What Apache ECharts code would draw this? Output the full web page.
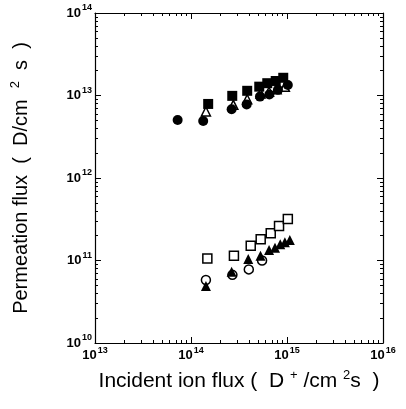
<!DOCTYPE html>
<html lang="en">
<head>
    <meta charset="UTF-8">
    <title>Permeation flux vs incident ion flux</title>
    <script src="https://cdn.jsdelivr.net/npm/echarts@6/dist/echarts.min.js"></script>
    <style>
        html, body { margin: 0; padding: 0; background: #fff; }
        #main { width: 406px; height: 409px; }
    </style>
</head>
<body>
    <div id="main"></div>
    <script>
    // 上段（高い透過フラックス）
    var upSqX   = [1.51e14, 2.69e14, 3.85e14, 5.14e14, 6.23e14, 7.63e14, 9.14e14];
    var upSqY   = [7.9e12, 9.9e12, 1.14e13, 1.28e13, 1.41e13, 1.50e13, 1.64e13];
    var upCirX  = [7.26e13, 1.34e14, 2.65e14, 3.8e14, 5.23e14, 6.55e14, 8.05e14, 1.02e15];
    var upCirY  = [5.05e12, 4.9e12, 6.8e12, 7.8e12, 9.7e12, 1.03e13, 1.17e13, 1.34e13];
    var upTriX  = [1.43e14, 2.76e14, 3.85e14, 5.3e14, 6.5e14, 7.8e14, 9.5e14];
    var upTriY  = [6.4e12, 7.7e12, 9.0e12, 1.06e13, 1.11e13, 1.19e13, 1.28e13];

    // 下段（低い透過フラックス）
    var loSqX   = [1.48e14, 2.8e14, 4.19e14, 5.32e14, 6.77e14, 8.26e14, 1.02e15];
    var loSqY   = [1.06e11, 1.14e11, 1.51e11, 1.81e11, 2.14e11, 2.62e11, 3.18e11];
    var loTriX  = [1.43e14, 2.65e14, 3.95e14, 5.3e14, 6.5e14, 7.5e14, 8.5e14, 9.5e14, 1.07e15];
    var loTriY  = [4.9e10, 7.3e10, 1.04e11, 1.14e11, 1.34e11, 1.43e11, 1.57e11, 1.66e11, 1.77e11];
    var loCirX  = [1.43e14, 2.7e14, 4.0e14, 5.5e14];
    var loCirY  = [5.8e10, 6.7e10, 7.8e10, 1.0e11];

    var xDecades = [13, 16];
    var yDecades = [10, 14];

    function pairs(xs, ys) {
        return xs.map(function (x, i) { return [x, ys[i]]; });
    }

    // 小目盛り（2〜9）の位置、log10空間
    function minorTicks(from, to) {
        var out = [];
        for (var d = from; d < to; d++) {
            for (var k = 2; k <= 9; k++) out.push(d + Math.log10(k));
        }
        return out;
    }

    var font = 'Liberation Sans, Arial, sans-serif';
    var tickRich = {
        a: { fontSize: 13, fontWeight: 'bold', fontFamily: font, color: '#000' },
        b: { fontSize: 9, fontWeight: 'bold', fontFamily: font, color: '#000', padding: [0, 0, 10, 1] }
    };
    function powLabel(v) {
        return '{a|10}{b|' + Math.round(Math.log10(v)) + '}';
    }

    var line = { show: true, onZero: false, lineStyle: { color: '#000', width: 1.2 } };
    var noLine = { show: false, onZero: false };

    function logAxis(pos, range, labels, name, gap, rotate, size) {
        return {
            type: 'log', logBase: 10, position: pos,
            min: Math.pow(10, range[0]), max: Math.pow(10, range[1]),
            axisLine: line,
            axisTick: { show: true, inside: true, length: 6, lineStyle: { color: '#000', width: 1 } },
            axisLabel: labels ? { show: true, margin: 3, formatter: powLabel, rich: tickRich } : { show: false },
            splitLine: { show: false },
            name: name || '', nameLocation: 'middle', nameGap: gap || 0, nameRotate: rotate,
            nameTextStyle: {
                rich: {
                    t: { fontSize: size, fontFamily: font, color: '#000' },
                    s: { fontSize: 13, fontFamily: font, color: '#000', padding: [0, 0, 11, 0] }
                }
            }
        };
    }
    function minorAxis(pos, range) {
        return {
            type: 'value', position: pos, min: range[0], max: range[1],
            axisLine: noLine,
            axisTick: { show: true, inside: true, length: 3, customValues: minorTicks(range[0], range[1]),
                lineStyle: { color: '#000', width: 1 } },
            axisLabel: { show: false },
            splitLine: { show: false }
        };
    }

    var myChart = echarts.init(document.getElementById('main'));

    var filled = { color: '#000', opacity: 1 };
    var hollow = { color: '#fff', borderColor: '#000', borderWidth: 1.5, opacity: 1 };

    var option = {
        animation: false,
        backgroundColor: '#fff',
        grid: { left: 95, right: 23, top: 13, bottom: 66 },
        xAxis: [
            logAxis('bottom', xDecades, true, '{t|Incident ion flux (  D }{s|+}{t| /cm }{s|2}{t|s  )}', 26, 0, 21),
            logAxis('top', xDecades, false),
            minorAxis('bottom', xDecades),
            minorAxis('top', xDecades)
        ],
        yAxis: [
            logAxis('left', yDecades, true, '{t|Permeation flux  (  D/cm  }{s|2}{t|  s  )}', 62, 90, 20),
            logAxis('right', yDecades, false),
            minorAxis('left', yDecades),
            minorAxis('right', yDecades)
        ],
        series: [
            { type: 'scatter', symbol: 'triangle', symbolSize: 9, itemStyle: hollow, data: pairs(upTriX, upTriY) },
            { type: 'scatter', symbol: 'rect', symbolSize: 10, itemStyle: filled, data: pairs(upSqX, upSqY) },
            { type: 'scatter', symbol: 'circle', symbolSize: 10, itemStyle: filled, data: pairs(upCirX, upCirY) },
            { type: 'scatter', symbol: 'rect', symbolSize: 9, itemStyle: hollow, data: pairs(loSqX, loSqY) },
            { type: 'scatter', symbol: 'circle', symbolSize: 9, itemStyle: hollow, data: pairs(loCirX, loCirY) },
            { type: 'scatter', symbol: 'triangle', symbolSize: 10, itemStyle: filled, data: pairs(loTriX, loTriY) }
        ]
    };

    myChart.setOption(option);
    </script>
</body>
</html>
